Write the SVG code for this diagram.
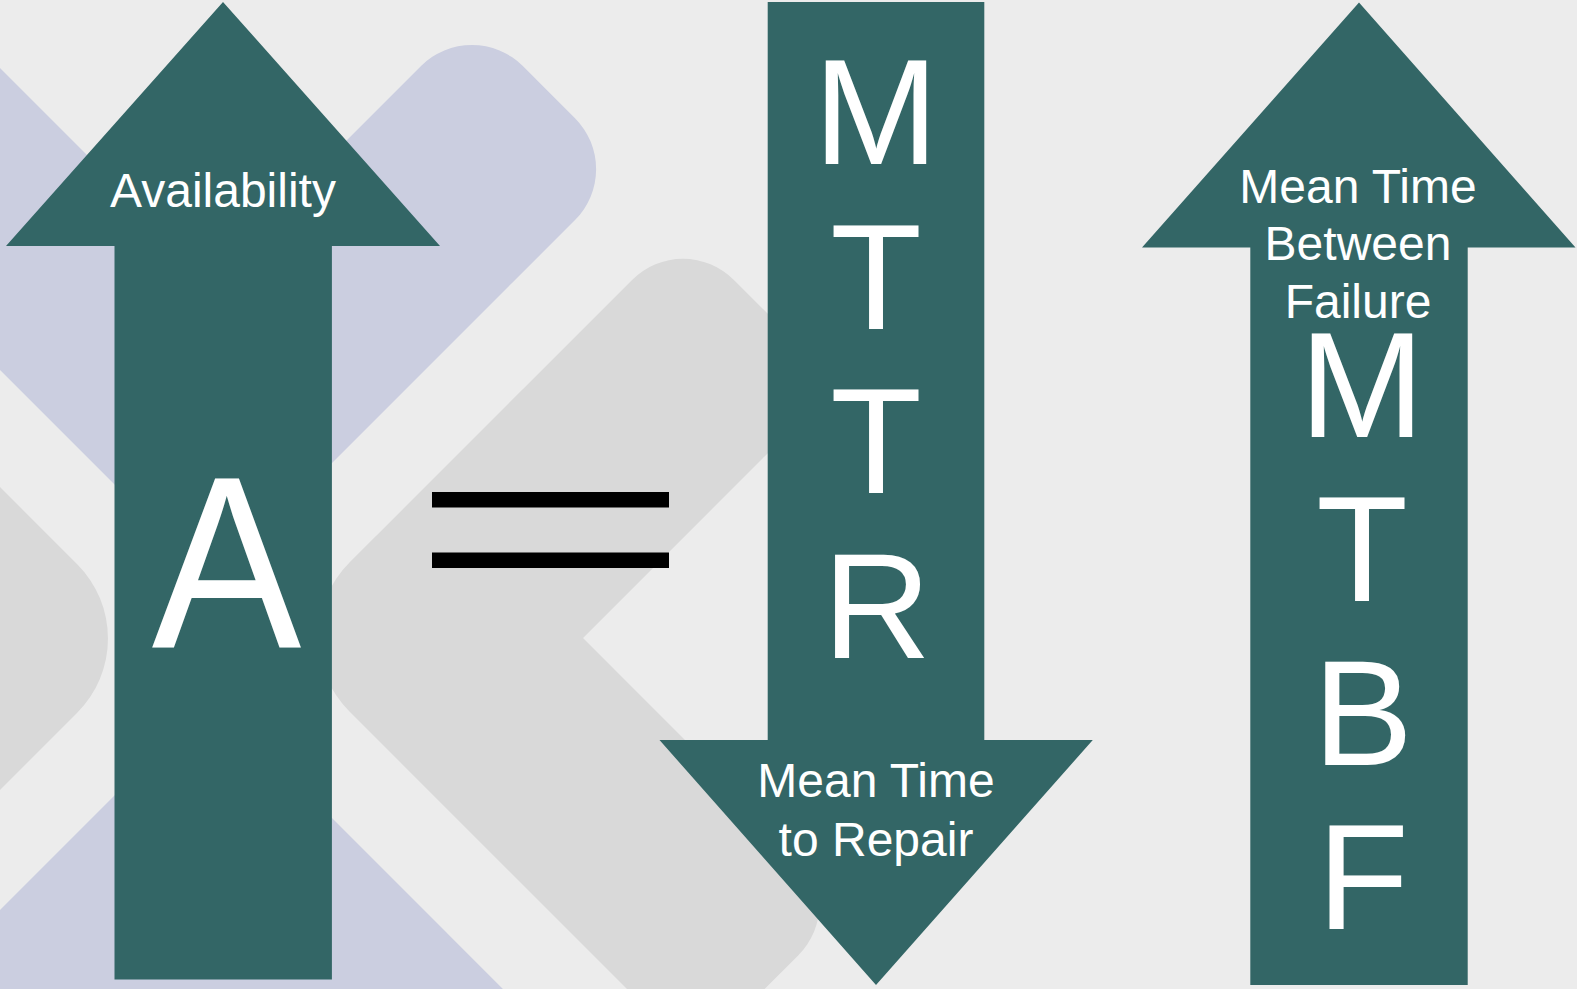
<svg xmlns="http://www.w3.org/2000/svg" width="1577" height="989" viewBox="0 0 1577 989">
  <defs>
    <style>
      .lav { fill: #cbcee0; }
      .gry { fill: #d9d9d9; }
      .arrow { fill: #336666; }
      .lbl { fill: #ffffff; font-family: "Liberation Sans", Arial, sans-serif; font-size: 48px; text-anchor: middle; }
      .big { fill: #ffffff; font-family: "Liberation Sans", Arial, sans-serif; font-size: 150px; text-anchor: middle; }
      .eq { fill: #000000; }
    </style>
  </defs>
  <rect x="0" y="0" width="1577" height="989" fill="#ececec"/>
  <g id="background" transform="rotate(45)">
    <path class="lav" d="M 416.4,-323 L 490.2,-323 A 72 72 0 0 1 562.2,-251 L 562.2,261.6 L -1000,261.6 L -1000,48.1 L 344.4,48.1 L 344.4,-251 A 72 72 0 0 1 416.4,-323 Z"/>
    <rect class="lav" x="643.5" y="343.7" width="2000" height="2000" rx="105"/>
    <rect class="gry" x="-1000" y="344.4" width="1558.6" height="2000" rx="105"/>
    <path class="gry" d="M 716.9,-321 L 791.4,-321 A 72 72 0 0 1 863.4,-249 L 863.4,38.9 L 1168,38.9 A 72 72 0 0 1 1240,110.9 L 1240,184 A 72 72 0 0 1 1168,256 L 749.9,256 A 105 105 0 0 1 644.9,151 L 644.9,-249 A 72 72 0 0 1 716.9,-321 Z"/>
  </g>
  <g id="node-availability">
    <polygon class="arrow" points="223,2 440,246 331.9,246 331.9,979.5 114.5,979.5 114.5,246 6,246"/>
    <text class="lbl" x="223" y="207.3">Availability</text>
    <text transform="translate(226.5,646.5) scale(0.915,1)" x="0" y="0" fill="#ffffff" font-family="Liberation Sans, Arial, sans-serif" font-size="245" text-anchor="middle">A</text>
  </g>
  <g id="node-equals">
    <rect class="eq" x="432" y="492" width="237" height="15.5"/>
    <rect class="eq" x="432" y="552.5" width="237" height="15.5"/>
  </g>
  <g id="node-mttr">
    <polygon class="arrow" points="767.7,2 984.3,2 984.3,740 1092.8,740 876,985 659.5,740 767.7,740"/>
    <text class="big" x="876" y="164.3">M</text>
    <text class="big" x="876" y="329">T</text>
    <text class="big" x="876" y="492.7">T</text>
    <text class="big" x="877" y="657.7">R</text>
    <text class="lbl" x="876" y="797.3">Mean Time</text>
    <text class="lbl" x="876" y="855.7">to Repair</text>
  </g>
  <g id="node-mtbf">
    <polygon class="arrow" points="1359,2.5 1575.5,247.5 1467.7,247.5 1467.7,985 1250.3,985 1250.3,247.5 1142,247.5"/>
    <text class="lbl" x="1358" y="202.7">Mean Time</text>
    <text class="lbl" x="1358" y="260">Between</text>
    <text class="lbl" x="1358" y="318.3">Failure</text>
    <text class="big" x="1362" y="436.7">M</text>
    <text class="big" x="1362" y="601">T</text>
    <text class="big" x="1363" y="765">B</text>
    <text class="big" x="1363" y="929.3">F</text>
  </g>
  <g id="connectors"/>
</svg>
